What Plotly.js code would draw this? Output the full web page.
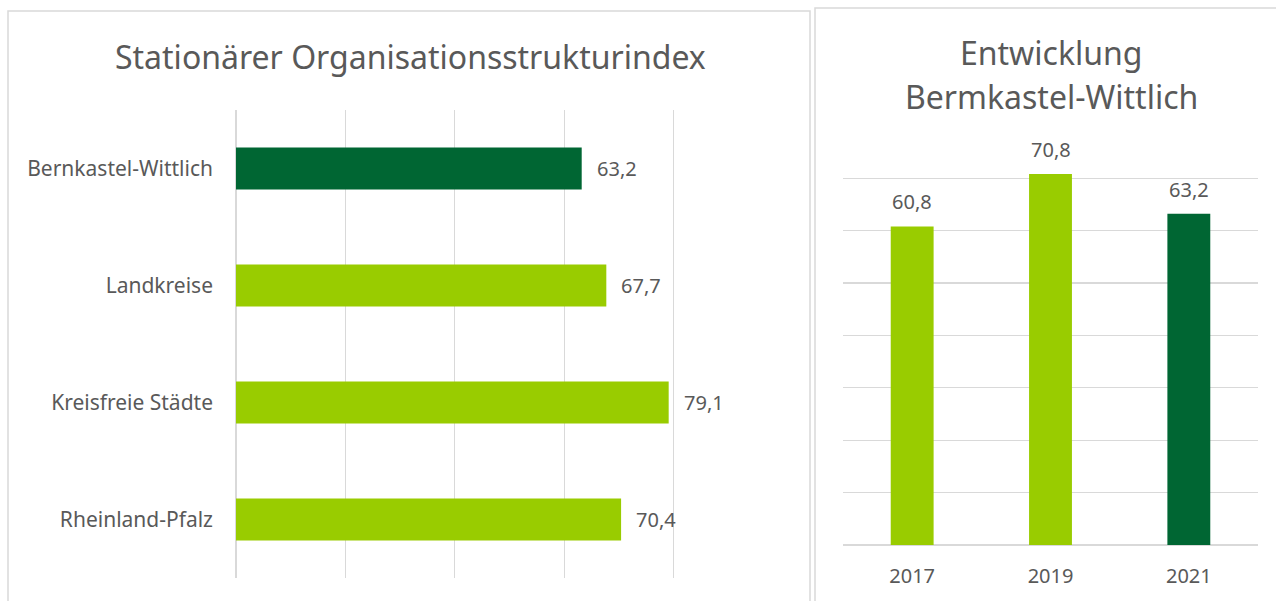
<!DOCTYPE html>
<html><head><meta charset="utf-8">
<script src="https://cdn.plot.ly/plotly-3.0.1.min.js"></script>
<style>body{margin:0;background:#fff}#c{width:1276px;height:601px}</style>
</head><body><div id="c"></div>
<script>
const regions = ["Bernkastel-Wittlich", "Landkreise", "Kreisfreie Städte", "Rheinland-Pfalz"];
const regionValues = [63.2, 67.7, 79.1, 70.4];
const regionColors = ["#006633", "#99CC00", "#99CC00", "#99CC00"];
const years = [2017, 2019, 2021];
const yearLabels = ["2017", "2019", "2021"];
const yearValues = [60.8, 70.8, 63.2];
const yearColors = ["#99CC00", "#99CC00", "#006633"];

const W = 1276, H = 601;
const px = x => x / W, py = y => 1 - y / H;
const fmt = v => v.toFixed(1).replace('.', ',');
const FONT = "Noto Sans, sans-serif";
const GRAY = "#595959";

const traces = [
  {type: 'bar', orientation: 'h', y: regions, x: regionValues, marker: {color: regionColors},
   xaxis: 'x', yaxis: 'y', hoverinfo: 'none', showlegend: false},
  {type: 'bar', orientation: 'v', x: years, y: yearValues, width: 0.62, marker: {color: yearColors},
   xaxis: 'x2', yaxis: 'y2', hoverinfo: 'none', showlegend: false}
];

const annotations = [];
regions.forEach((r, i) => annotations.push({xref: 'x', yref: 'y', x: regionValues[i], y: r,
  text: fmt(regionValues[i]), showarrow: false, xanchor: 'left', yanchor: 'middle', xshift: 13,
  font: {family: FONT, size: 20, color: GRAY}}));
years.forEach((r, i) => annotations.push({xref: 'x2', yref: 'y2', x: r, y: yearValues[i],
  text: fmt(yearValues[i]), showarrow: false, xanchor: 'center', yanchor: 'bottom', yshift: 9,
  font: {family: FONT, size: 20, color: GRAY}}));
annotations.push({xref: 'paper', yref: 'paper', x: px(410), y: py(56), xanchor: 'center', yanchor: 'middle',
  text: 'Stationärer Organisationsstrukturindex',
  showarrow: false, font: {family: FONT, size: 32, color: GRAY}});
annotations.push({xref: 'paper', yref: 'paper', x: px(1051), y: py(52), xanchor: 'center', yanchor: 'middle',
  text: 'Entwicklung',
  showarrow: false, font: {family: FONT, size: 32, color: GRAY}});
annotations.push({xref: 'paper', yref: 'paper', x: px(1051), y: py(97), xanchor: 'center', yanchor: 'middle',
  text: 'Bermkastel-Wittlich',
  showarrow: false, font: {family: FONT, size: 32, color: GRAY}});

const layout = {
  width: W, height: H, margin: {l: 0, r: 0, t: 0, b: 0},
  paper_bgcolor: '#fff', plot_bgcolor: 'rgba(0,0,0,0)',
  font: {family: FONT, color: GRAY},
  bargap: 0.64,
  xaxis: {domain: [px(236), px(783)], range: [0, 100], dtick: 20, showgrid: true, gridcolor: '#d9d9d9',
          gridwidth: 1.3, zeroline: true, zerolinecolor: '#d9d9d9', zerolinewidth: 1.3, showticklabels: false},
  yaxis: {domain: [py(578), py(110)], autorange: 'reversed', showgrid: false, zeroline: false,
          ticks: '', ticklabelstandoff: 22, tickfont: {family: FONT, size: 21, color: GRAY}},
  xaxis2: {domain: [px(843), px(1258)], anchor: 'y2', range: [2016, 2022], tickmode: 'array',
           tickvals: years, ticktext: yearLabels, showgrid: false, zeroline: false, ticks: '',
           ticklabelstandoff: 17, tickfont: {family: FONT, size: 20, color: GRAY}},
  yaxis2: {domain: [py(545), py(545 - 72 * 5.24)], anchor: 'x2', range: [0, 72], dtick: 10, showgrid: true,
           gridcolor: '#d9d9d9', gridwidth: 1.3, zeroline: true, zerolinecolor: '#d9d9d9', zerolinewidth: 1.3,
           showticklabels: false},
  annotations: annotations,
  shapes: [
    {type: 'rect', xref: 'paper', yref: 'paper', x0: px(8), x1: px(810), y0: py(605), y1: py(11),
     line: {color: '#d9d9d9', width: 1.5}},
    {type: 'rect', xref: 'paper', yref: 'paper', x0: px(815), x1: px(1280), y0: py(605), y1: py(8),
     line: {color: '#d9d9d9', width: 1.5}}
  ]
};
Plotly.newPlot('c', traces, layout, {displayModeBar: false, staticPlot: true});
</script></body></html>
